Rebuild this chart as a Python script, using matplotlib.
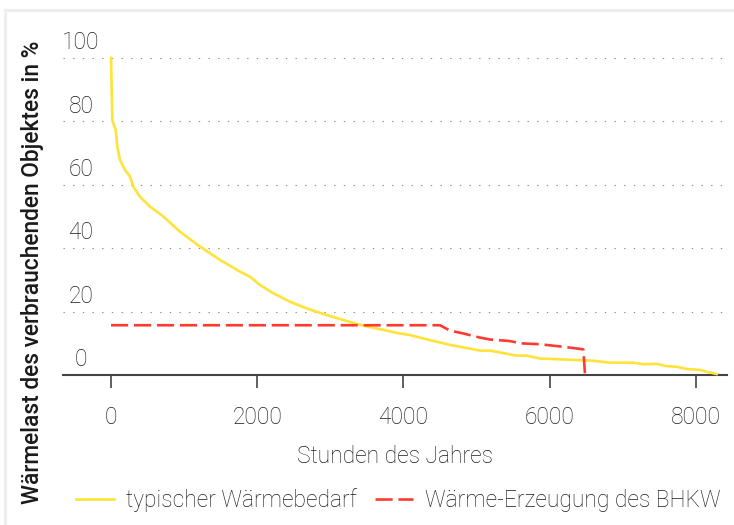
import matplotlib
matplotlib.use("Agg")
import matplotlib.pyplot as plt
from matplotlib.lines import Line2D
from matplotlib.transforms import offset_copy

# --- data ---
demand_hours = [0, 18, 32, 64, 86, 123, 191, 260, 305, 397, 534, 716, 944, 1217, 1491,
                1765, 1902, 2038, 2220, 2449, 2677, 2951, 3406, 3953, 4090, 4364, 4637,
                4820, 5048, 5185, 5550, 5686, 5869, 6188, 6598, 6826, 7145, 7282, 7465,
                7601, 7738, 7875, 8057, 8149, 8286]
demand_pct = [100, 80.4, 79.4, 77.3, 72, 67.8, 64.7, 62.6, 59.4, 56.2, 53.1, 50, 45.2, 40.5, 36.3,
              32.6, 31, 28.4, 25.8, 23.1, 21, 18.9, 15.8, 13.1, 12.6, 11, 9.5,
              8.7, 7.7, 7.7, 6.1, 6.1, 5.2, 4.9, 4.5, 3.9, 3.9, 3.4, 3.5,
              2.8, 2.6, 1.9, 1.6, 1.0, 0.3]

chp_hours = [0, 4500, 4637, 4820, 5048, 5185, 5459, 5595, 5869, 6188, 6461, 6485]
chp_pct = [15.7, 15.7, 14, 13.1, 11.8, 11.2, 10.7, 10, 9.7, 8.9, 8.1, 0]

x_ticks = [0, 2000, 4000, 6000, 8000]
y_ticks = [0, 20, 40, 60, 80, 100]
grid_vals = [20, 40, 60, 80, 100]

x_label = "Stunden des Jahres"
y_label = "Wärmelast des verbrauchenden Objektes in %"
series_labels = ["typischer Wärmebedarf", "Wärme-Erzeugung des BHKW"]

YELLOW = "#ffe23a"
RED = "#ff3b30"
TXT = "#1c1c1c"
AX = "#444444"
FS = 16.4

plt.rcParams['font.family'] = ['Roboto', 'DejaVu Sans']

W, H = 734, 525
fig = plt.figure(figsize=(W / 100, H / 100), dpi=100)

# light frame
fig.add_artist(Line2D([5 / W, 5 / W], [0, 1 - 10 / H], color="#eeeeee", lw=2.2,
                      transform=fig.transFigure))
fig.add_artist(Line2D([5 / W, 1], [1 - 10 / H, 1 - 10 / H], color="#eeeeee", lw=2.2,
                      transform=fig.transFigure))

left, right, top, bottom = 63, 727, 58, 375
ax = fig.add_axes([left / W, 1 - bottom / H, (right - left) / W, (bottom - top) / H])
ax.set_xlim(-657, 8427)
ax.set_ylim(0, 100)

for s in ["top", "right", "left"]:
    ax.spines[s].set_visible(False)
ax.spines["bottom"].set_color(AX)
ax.spines["bottom"].set_linewidth(1.5)

for g in grid_vals:
    ax.axhline(g, color="#888888", lw=0.8, linestyle=(0, (1.2, 7.5)), zorder=1)

ax.plot(demand_hours, demand_pct, color=YELLOW, lw=1.9, zorder=3, clip_on=False,
        solid_joinstyle="round")
ax.plot(chp_hours, chp_pct, color=RED, lw=1.9, zorder=4, clip_on=False,
        linestyle=(0, (6.5, 2.2)))

ax.set_xticks(x_ticks)
ax.set_xticklabels([str(v) for v in x_ticks])
ax.tick_params(axis="x", direction="out", length=9, width=1.2, color=AX, pad=13,
               labelsize=FS, labelcolor=TXT)
ax.set_yticks([])
for lab in ax.get_xticklabels():
    lab.set_fontweight("light")

# y tick labels above the grid lines
trans = offset_copy(ax.transData, fig=fig, x=0, y=11, units="points")
for v in y_ticks:
    ax.text(-411, v, str(v), transform=trans, ha="center", va="center",
            fontsize=FS, color=TXT, fontweight="light")

ax.set_xlabel(x_label, fontsize=FS, color=TXT, fontweight="light", labelpad=12)

fig.text(33 / W, 1 - 272 / H, y_label, rotation=90, ha="center", va="center",
         fontsize=FS, color="#1a1a1a", fontweight="medium")

handles = [Line2D([], [], color=YELLOW, lw=1.9),
           Line2D([], [], color=RED, lw=1.9, linestyle=(0, (6.5, 2.2)))]
leg = fig.legend(handles, series_labels, loc="center left",
                 bbox_to_anchor=(76 / W, 1 - 500 / H), ncol=2, frameon=False,
                 fontsize=FS, handlelength=1.65, handletextpad=0.55,
                 columnspacing=0.8, borderpad=0, borderaxespad=0)
for t in leg.get_texts():
    t.set_color(TXT)
    t.set_fontweight("light")

fig.savefig("out.png", dpi=100)
